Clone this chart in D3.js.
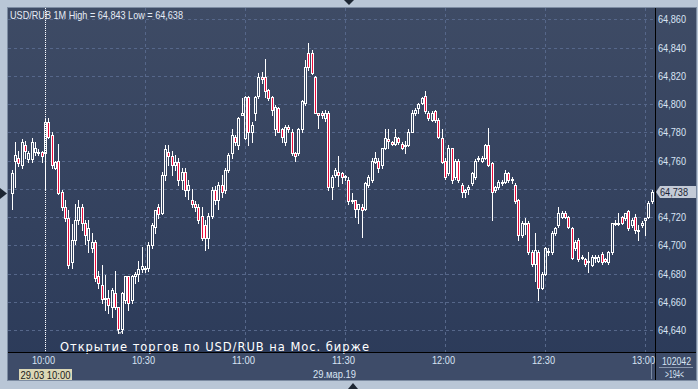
<!DOCTYPE html>
<html>
<head>
<meta charset="utf-8">
<script src="https://cdn.jsdelivr.net/npm/d3@7"></script>
<style>
body { margin: 0; background: #b9c6d6; }
svg { display: block; }
text { font-family: "Liberation Sans", Arial, sans-serif; }
</style>
</head>
<body>
<div id="chart"></div>
<script>
// 1-minute USD/RUB bars, 09:50 .. 13:02, 29.03.2019
var startTime = new Date(2019, 2, 29, 9, 50);

var opens = [
64.737,64.760,64.762,64.757,64.771,64.761,64.761,64.766,64.766,64.766,
64.765,64.787,64.778,64.755,64.760,64.738,64.727,64.719,64.688,64.704,
64.718,64.727,64.716,64.704,64.698,64.702,64.678,64.672,64.663,64.663,
64.656,64.666,64.656,64.641,64.661,64.678,64.661,64.678,64.680,64.683,
64.684,64.684,64.700,64.713,64.727,64.723,64.750,64.766,64.763,64.757,
64.759,64.746,64.752,64.739,64.732,64.729,64.727,64.721,64.714,64.705,
64.721,64.739,64.732,64.743,64.739,64.753,64.765,64.777,64.771,64.792,
64.776,64.805,64.780,64.794,64.806,64.819,64.819,64.810,64.805,64.782,
64.797,64.782,64.773,64.784,64.780,64.765,64.765,64.782,64.801,64.836,
64.836,64.819,64.794,64.794,64.790,64.794,64.741,64.750,64.752,64.751,
64.749,64.746,64.731,64.732,64.726,64.727,64.726,64.743,64.746,64.759,
64.760,64.757,64.769,64.775,64.773,64.772,64.776,64.772,64.770,64.771,
64.780,64.794,64.797,64.801,64.806,64.794,64.789,64.795,64.789,64.776,
64.760,64.751,64.769,64.748,64.760,64.743,64.738,64.740,64.744,64.748,
64.761,64.760,64.762,64.771,64.758,64.739,64.741,64.744,64.745,64.751,
64.747,64.743,64.732,64.707,64.715,64.716,64.695,64.687,64.695,64.670,
64.680,64.695,64.695,64.709,64.714,64.720,64.723,64.720,64.712,64.698,
64.704,64.692,64.690,64.688,64.686,64.691,64.689,64.694,64.690,64.688,
64.695,64.715,64.716,64.720,64.719,64.724,64.714,64.720,64.711,64.714,
64.718,64.720,64.731];

var highs = [
64.753,64.773,64.767,64.775,64.774,64.767,64.776,64.773,64.768,64.767,
64.790,64.790,64.780,64.760,64.772,64.739,64.732,64.725,64.715,64.729,
64.732,64.729,64.718,64.718,64.709,64.704,64.682,64.686,64.679,64.668,
64.670,64.682,64.656,64.667,64.678,64.678,64.679,64.681,64.689,64.699,
64.685,64.702,64.716,64.725,64.729,64.752,64.771,64.771,64.767,64.764,
64.762,64.755,64.755,64.746,64.740,64.731,64.729,64.727,64.718,64.723,
64.741,64.742,64.745,64.750,64.755,64.765,64.782,64.778,64.791,64.804,
64.806,64.806,64.787,64.806,64.822,64.823,64.832,64.811,64.806,64.799,
64.798,64.783,64.785,64.785,64.782,64.766,64.783,64.803,64.831,64.843,
64.838,64.820,64.794,64.795,64.796,64.795,64.750,64.755,64.763,64.752,
64.750,64.748,64.737,64.732,64.729,64.729,64.745,64.750,64.762,64.766,
64.762,64.769,64.782,64.782,64.774,64.782,64.777,64.773,64.774,64.782,
64.796,64.797,64.801,64.805,64.809,64.795,64.795,64.796,64.790,64.782,
64.762,64.771,64.769,64.761,64.761,64.744,64.740,64.743,64.752,64.761,
64.763,64.763,64.772,64.783,64.759,64.742,64.746,64.746,64.753,64.752,
64.748,64.744,64.733,64.717,64.719,64.717,64.697,64.709,64.697,64.681,
64.699,64.698,64.710,64.713,64.727,64.724,64.724,64.721,64.713,64.704,
64.705,64.693,64.691,64.695,64.693,64.693,64.693,64.695,64.691,64.696,
64.716,64.718,64.723,64.721,64.723,64.725,64.719,64.722,64.714,64.717,
64.719,64.731,64.739];

var lows = [
64.726,64.741,64.756,64.755,64.762,64.759,64.759,64.764,64.764,64.759,
64.739,64.776,64.755,64.754,64.736,64.725,64.717,64.684,64.684,64.701,
64.715,64.711,64.701,64.695,64.695,64.675,64.670,64.659,64.654,64.652,
64.649,64.655,64.638,64.638,64.659,64.654,64.659,64.673,64.675,64.681,
64.681,64.682,64.698,64.709,64.719,64.722,64.746,64.757,64.750,64.753,
64.743,64.740,64.735,64.733,64.727,64.724,64.716,64.704,64.697,64.698,
64.719,64.729,64.726,64.734,64.737,64.752,64.762,64.771,64.768,64.792,
64.775,64.771,64.773,64.789,64.804,64.815,64.805,64.803,64.792,64.778,
64.780,64.773,64.771,64.780,64.764,64.760,64.764,64.780,64.799,64.824,
64.821,64.794,64.783,64.790,64.788,64.739,64.733,64.748,64.742,64.744,
64.746,64.729,64.730,64.720,64.716,64.706,64.725,64.741,64.745,64.758,
64.752,64.755,64.768,64.769,64.771,64.771,64.772,64.768,64.765,64.770,
64.780,64.792,64.794,64.800,64.794,64.789,64.788,64.787,64.776,64.758,
64.747,64.750,64.744,64.747,64.745,64.734,64.734,64.736,64.743,64.747,
64.760,64.759,64.761,64.756,64.718,64.738,64.740,64.743,64.744,64.745,
64.744,64.730,64.704,64.706,64.708,64.694,64.685,64.675,64.661,64.669,
64.679,64.693,64.694,64.707,64.713,64.719,64.719,64.712,64.690,64.697,
64.689,64.690,64.685,64.681,64.685,64.688,64.688,64.687,64.688,64.687,
64.694,64.714,64.714,64.715,64.718,64.711,64.713,64.709,64.704,64.713,
64.707,64.719,64.730];

var closes = [
64.751,64.764,64.758,64.773,64.767,64.765,64.773,64.769,64.765,64.763,
64.787,64.777,64.757,64.759,64.737,64.727,64.719,64.686,64.704,64.718,
64.727,64.716,64.707,64.712,64.702,64.677,64.673,64.662,64.663,64.658,
64.668,64.656,64.641,64.666,64.678,64.659,64.678,64.680,64.683,64.685,
64.684,64.700,64.714,64.725,64.722,64.750,64.768,64.763,64.757,64.759,
64.746,64.752,64.739,64.743,64.729,64.727,64.718,64.705,64.705,64.721,
64.739,64.732,64.743,64.738,64.753,64.764,64.778,64.773,64.790,64.794,
64.805,64.780,64.785,64.805,64.819,64.818,64.809,64.804,64.796,64.798,
64.780,64.777,64.784,64.782,64.765,64.763,64.782,64.802,64.826,64.826,
64.822,64.794,64.792,64.792,64.794,64.741,64.748,64.753,64.750,64.748,
64.748,64.731,64.732,64.726,64.729,64.725,64.744,64.748,64.760,64.762,
64.755,64.769,64.776,64.774,64.772,64.777,64.773,64.769,64.771,64.780,
64.794,64.796,64.800,64.804,64.795,64.790,64.794,64.789,64.777,64.759,
64.748,64.769,64.746,64.760,64.746,64.738,64.739,64.741,64.751,64.760,
64.762,64.762,64.771,64.757,64.738,64.741,64.745,64.745,64.751,64.746,
64.746,64.731,64.707,64.716,64.716,64.695,64.687,64.697,64.670,64.680,
64.698,64.696,64.709,64.712,64.723,64.723,64.720,64.713,64.691,64.702,
64.690,64.691,64.687,64.689,64.692,64.692,64.692,64.688,64.689,64.695,
64.716,64.716,64.715,64.716,64.723,64.712,64.718,64.711,64.710,64.716,
64.719,64.730,64.738];

var priceTicks = [64.64,64.66,64.68,64.70,64.72,64.74,64.76,64.78,64.80,64.82,64.84,64.86];
var lastPrice = 64.738;
var titleText = "USD/RUB 1M High = 64,843 Low = 64,638";
var noteText = "Открытие торгов по USD/RUB на Мос. бирже";
var barCount = ">194<";
var volumeText = "102042";

var W = 698, H = 389;
var pl = 8, pt = 8, pr = 655, pb = 352, outerR = 696, outerB = 380;
var labelColor = "#d9e4f4";

var bars = opens.map(function(o, i) {
  return {t: d3.timeMinute.offset(startTime, i), o: o, h: highs[i], l: lows[i], c: closes[i]};
});

var ru = d3.formatLocale({decimal: ",", thousands: " ", grouping: [3], currency: ["", ""]});
var fmt = ru.format(".3f");

var x = d3.scaleTime()
  .domain([new Date(2019, 2, 29, 10, 0), new Date(2019, 2, 29, 13, 0)])
  .range([45, 645]);
var y = d3.scaleLinear().domain([64.64, 64.86]).range([330, 19.3]);

var svg = d3.select("#chart").append("svg")
  .attr("width", W).attr("height", H);

var defs = svg.append("defs");
var grad = defs.append("linearGradient").attr("id", "bg")
  .attr("x1", 0).attr("y1", 0).attr("x2", 0).attr("y2", 1);
grad.append("stop").attr("offset", "0%").attr("stop-color", "#3e4b65");
grad.append("stop").attr("offset", "100%").attr("stop-color", "#2b3a59");
defs.append("clipPath").attr("id", "plotclip").append("rect")
  .attr("x", pl).attr("y", pt).attr("width", pr - pl).attr("height", pb - pt);

// frame
svg.append("rect").attr("width", W).attr("height", H).attr("fill", "#b9c6d6");
svg.append("rect")
  .attr("x", pl - 0.5).attr("y", pt - 0.5)
  .attr("width", outerR - pl + 1).attr("height", outerB - pt + 1)
  .attr("fill", "url(#bg)").attr("stroke", "#7d8ca2");
svg.append("rect")
  .attr("x", pl).attr("y", pb).attr("width", outerR - pl).attr("height", outerB - pb)
  .attr("fill", "#3e4c69");

// grid
var plot = svg.append("g").attr("clip-path", "url(#plotclip)");
plot.selectAll(".hg").data(priceTicks).enter().append("line")
  .attr("x1", pl).attr("x2", pr)
  .attr("y1", function(d) { return Math.round(y(d)) + 0.5; })
  .attr("y2", function(d) { return Math.round(y(d)) + 0.5; })
  .attr("stroke", "#56678a").attr("stroke-dasharray", "3,3");
var timeTicks = x.ticks(d3.timeMinute.every(30));
plot.selectAll(".vg").data(timeTicks).enter().append("line")
  .attr("x1", function(d) { return Math.round(x(d)) + 0.5; })
  .attr("x2", function(d) { return Math.round(x(d)) + 0.5; })
  .attr("y1", pt).attr("y2", pb)
  .attr("stroke", "#56678a").attr("stroke-dasharray", "3,3");

// candles
var g = plot.selectAll(".bar").data(bars).enter().append("g");
function cx(d) { return Math.round(x(d.t)) + 0.5; }
function bodyTop(d) { return Math.round(y(Math.max(d.o, d.c))) + 0.5; }
function bodyBot(d) { return Math.max(Math.round(y(Math.min(d.o, d.c))) + 0.5, bodyTop(d) + 1); }
g.append("line")
  .attr("x1", cx).attr("x2", cx)
  .attr("y1", function(d) { return Math.round(y(d.h)); })
  .attr("y2", bodyTop)
  .attr("stroke", "#fff");
g.append("line")
  .attr("x1", cx).attr("x2", cx)
  .attr("y1", bodyBot)
  .attr("y2", function(d) { return Math.round(y(d.l)) + 1; })
  .attr("stroke", "#fff");
g.append("rect")
  .attr("x", function(d) { return cx(d) - 1; })
  .attr("y", bodyTop)
  .attr("width", 2)
  .attr("height", function(d) { return bodyBot(d) - bodyTop(d); })
  .attr("fill", function(d) { return d.c < d.o ? "#ee0a3a" : "none"; })
  .attr("stroke", "#fff");

// crosshair at 10:00
plot.append("line")
  .attr("x1", 45.5).attr("x2", 45.5).attr("y1", pt).attr("y2", pb)
  .attr("stroke", "#fff").attr("stroke-dasharray", "1,1");

// note with marker
plot.append("path")
  .attr("d", "M117.5,330.5 L120,333.5 L122.5,330.5")
  .attr("fill", "none").attr("stroke", "#fff");
svg.append("text")
  .attr("x", 60).attr("y", 350.5)
  .attr("textLength", 309).attr("lengthAdjust", "spacing")
  .attr("fill", "#fff")
  .style("font-family", "'DejaVu Sans', sans-serif").style("font-size", "11.5px")
  .text(noteText);

// title
svg.append("text")
  .attr("x", 10).attr("y", 18.5)
  .attr("textLength", 173).attr("lengthAdjust", "spacingAndGlyphs")
  .attr("fill", "#e6ecf6").style("font-size", "11px")
  .text(titleText);

// price axis (label under the last-price tag is hidden, as in the original)
var ly = Math.round(y(lastPrice));
var yAxis = svg.append("g")
  .attr("transform", "translate(" + (pr + 3) + ",0)")
  .call(d3.axisRight(y)
    .tickValues(priceTicks.filter(function(v) { return Math.abs(y(v) - ly) > 9; }))
    .tickFormat(fmt).tickSize(0).tickPadding(0));
yAxis.select(".domain").remove();
yAxis.selectAll("text")
  .attr("textLength", 28).attr("lengthAdjust", "spacingAndGlyphs")
  .attr("fill", labelColor).style("font-size", "11px");

// time axis
var xAxis = svg.append("g")
  .attr("transform", "translate(-2," + (pb + 4) + ")")
  .call(d3.axisBottom(x).ticks(d3.timeMinute.every(30))
    .tickFormat(d3.timeFormat("%H:%M")).tickSize(0).tickPadding(0));
xAxis.select(".domain").remove();
xAxis.selectAll("text")
  .attr("textLength", 23).attr("lengthAdjust", "spacingAndGlyphs")
  .attr("fill", labelColor).style("font-size", "11px");

// separators
svg.append("line").attr("x1", pr + 0.5).attr("x2", pr + 0.5).attr("y1", pt).attr("y2", outerB)
  .attr("stroke", "#000");
svg.append("line").attr("x1", pl).attr("x2", outerR).attr("y1", pb + 0.5).attr("y2", pb + 0.5)
  .attr("stroke", "#000");
svg.append("line").attr("x1", 651.5).attr("x2", 651.5).attr("y1", 356).attr("y2", 379)
  .attr("stroke", "#7b8aa3");

// date labels
svg.append("rect").attr("x", 19).attr("y", 369).attr("width", 53).attr("height", 11)
  .attr("fill", "#dcd8b6");
svg.append("text").attr("x", 20.5).attr("y", 378.5)
  .attr("textLength", 50).attr("lengthAdjust", "spacingAndGlyphs")
  .attr("fill", "#1b1b1b").style("font-size", "11px").text("29.03 10:00");
svg.append("text").attr("x", 313).attr("y", 377.5)
  .attr("textLength", 43).attr("lengthAdjust", "spacingAndGlyphs")
  .attr("fill", labelColor).style("font-size", "11px").text("29.мар.19");

// bottom right info
svg.append("text").attr("x", 662).attr("y", 364.5)
  .attr("textLength", 29).attr("lengthAdjust", "spacingAndGlyphs")
  .attr("fill", labelColor).style("font-size", "11px").text(volumeText);
svg.append("line").attr("x1", 659).attr("x2", 693).attr("y1", 367.5).attr("y2", 367.5)
  .attr("stroke", "#8795ac");
svg.append("text").attr("x", 665).attr("y", 377.5)
  .attr("textLength", 19).attr("lengthAdjust", "spacingAndGlyphs")
  .attr("fill", labelColor).style("font-size", "11px").text(barCount);

// last price tag
svg.append("path")
  .attr("d", "M" + (pr + 1) + "," + ly + " L" + (pr + 5) + "," + (ly - 6) + " L696," + (ly - 6) +
    " L696," + (ly + 6) + " L" + (pr + 5) + "," + (ly + 6) + "Z")
  .attr("fill", "#c3cad6");
svg.append("text").attr("x", 660).attr("y", ly + 4)
  .attr("textLength", 28).attr("lengthAdjust", "spacingAndGlyphs")
  .attr("fill", "#1a2436").style("font-size", "11px").text(fmt(lastPrice));

// splitter handles
svg.append("path").attr("d", "M0,188 L7,193.5 L0,199 Z").attr("fill", "#1d2633");
svg.append("path").attr("d", "M344,0 L354,0 L349,5 Z").attr("fill", "#1d2633");
svg.append("path").attr("d", "M348,389 L358,389 L353,383 Z").attr("fill", "#1d2633");
</script>
</body>
</html>
